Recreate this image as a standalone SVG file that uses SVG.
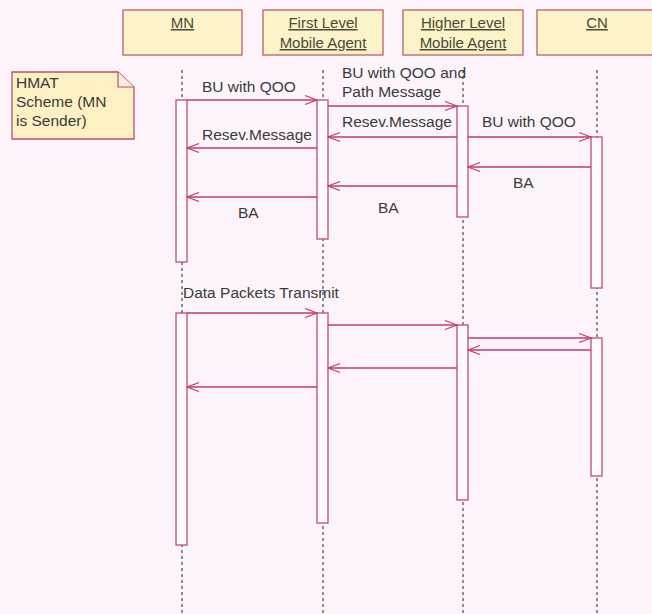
<svg xmlns="http://www.w3.org/2000/svg" width="652" height="614" viewBox="0 0 652 614">
<defs>
<style>
.bg{fill:#fdf4fb}
.head{fill:#fdf3c8;stroke:#b8606e;stroke-width:1.3}
.htxt{font-family:"Liberation Sans",Arial,sans-serif;font-size:15px;fill:#4a4a38;text-decoration:underline;text-anchor:middle}
.txt{font-family:"Liberation Sans",Arial,sans-serif;font-size:15.5px;fill:#3a3a3a}
.life{stroke:#555;stroke-width:1.3;stroke-dasharray:3,3;fill:none}
.bar{fill:#fff9fd;stroke:#b8506e;stroke-width:1.3}
.msg{stroke:#c03c6c;stroke-width:1.3;fill:none;marker-end:url(#arr)}
.note{fill:#fdf1c4;stroke:#b8506e;stroke-width:1.3}
</style>
<marker id="arr" viewBox="-13 -6 14 12" refX="0" refY="0" markerWidth="14" markerHeight="12" markerUnits="userSpaceOnUse" orient="auto">
<path d="M-12,-4.5 L0,0 L-12,4.5" fill="none" stroke="#c03c6c" stroke-width="1.3"/>
</marker>
</defs>
<rect class="bg" x="0" y="0" width="652" height="614"/>

<g id="lifelines">
<line class="life" x1="182" y1="70" x2="182" y2="614"/>
<line class="life" x1="323" y1="70" x2="323" y2="614"/>
<line class="life" x1="463" y1="70" x2="463" y2="614"/>
<line class="life" x1="597" y1="70" x2="597" y2="614"/>
</g>

<g id="MN">
<rect class="head" x="123" y="10" width="119" height="45"/>
<text class="htxt" x="182.5" y="28">MN</text>
<rect class="bar" x="176" y="100" width="11" height="162"/>
<rect class="bar" x="176" y="313" width="11" height="232"/>
</g>
<g id="FirstLevel">
<rect class="head" x="263" y="10" width="120" height="45"/>
<text class="htxt" x="323" y="28">First Level</text>
<text class="htxt" x="323" y="48">Mobile Agent</text>
<rect class="bar" x="317" y="100" width="11" height="139"/>
<rect class="bar" x="317" y="313" width="11" height="210"/>
</g>
<g id="HigherLevel">
<rect class="head" x="403" y="10" width="120" height="45"/>
<text class="htxt" x="463" y="28">Higher Level</text>
<text class="htxt" x="463" y="48">Mobile Agent</text>
<rect class="bar" x="457" y="106" width="11" height="111"/>
<rect class="bar" x="457" y="325" width="11" height="175"/>
</g>
<g id="CN">
<rect class="head" x="537" y="10" width="121" height="45"/>
<text class="htxt" x="597" y="28">CN</text>
<rect class="bar" x="591" y="137" width="11" height="151"/>
<rect class="bar" x="591" y="338" width="11" height="138"/>
</g>

<g id="note">
<path class="note" d="M12,72 L118,72 L134,87 L134,139 L12,139 Z"/>
<path d="M118,72 L118,87 L134,87" fill="#fbeedd" stroke="#b8506e" stroke-width="1.2"/>
<text class="txt" x="16" y="88">HMAT</text>
<text class="txt" x="16" y="107">Scheme (MN</text>
<text class="txt" x="16" y="126">is Sender)</text>
</g>

<g id="connectors">
<line class="msg" x1="187" y1="100" x2="317" y2="100"/>
<line class="msg" x1="328" y1="106" x2="457" y2="106"/>
<line class="msg" x1="457" y1="137" x2="328" y2="137"/>
<line class="msg" x1="468" y1="137" x2="591" y2="137"/>
<line class="msg" x1="317" y1="148" x2="187" y2="148"/>
<line class="msg" x1="591" y1="167" x2="468" y2="167"/>
<line class="msg" x1="457" y1="186" x2="328" y2="186"/>
<line class="msg" x1="317" y1="197" x2="187" y2="197"/>
<line class="msg" x1="187" y1="313" x2="317" y2="313"/>
<line class="msg" x1="328" y1="325" x2="457" y2="325"/>
<line class="msg" x1="468" y1="338" x2="591" y2="338"/>
<line class="msg" x1="591" y1="350" x2="468" y2="350"/>
<line class="msg" x1="457" y1="368" x2="328" y2="368"/>
<line class="msg" x1="317" y1="387" x2="187" y2="387"/>
</g>

<g id="labels">
<text class="txt" x="202" y="92">BU with QOO</text>
<text class="txt" x="342" y="78">BU with QOO and</text>
<text class="txt" x="342" y="97">Path Message</text>
<text class="txt" x="342" y="127">Resev.Message</text>
<text class="txt" x="482" y="127">BU with QOO</text>
<text class="txt" x="202" y="140">Resev.Message</text>
<text class="txt" x="513" y="188">BA</text>
<text class="txt" x="378" y="213">BA</text>
<text class="txt" x="238" y="218">BA</text>
<text class="txt" x="183" y="298">Data Packets Transmit</text>
</g>
</svg>
